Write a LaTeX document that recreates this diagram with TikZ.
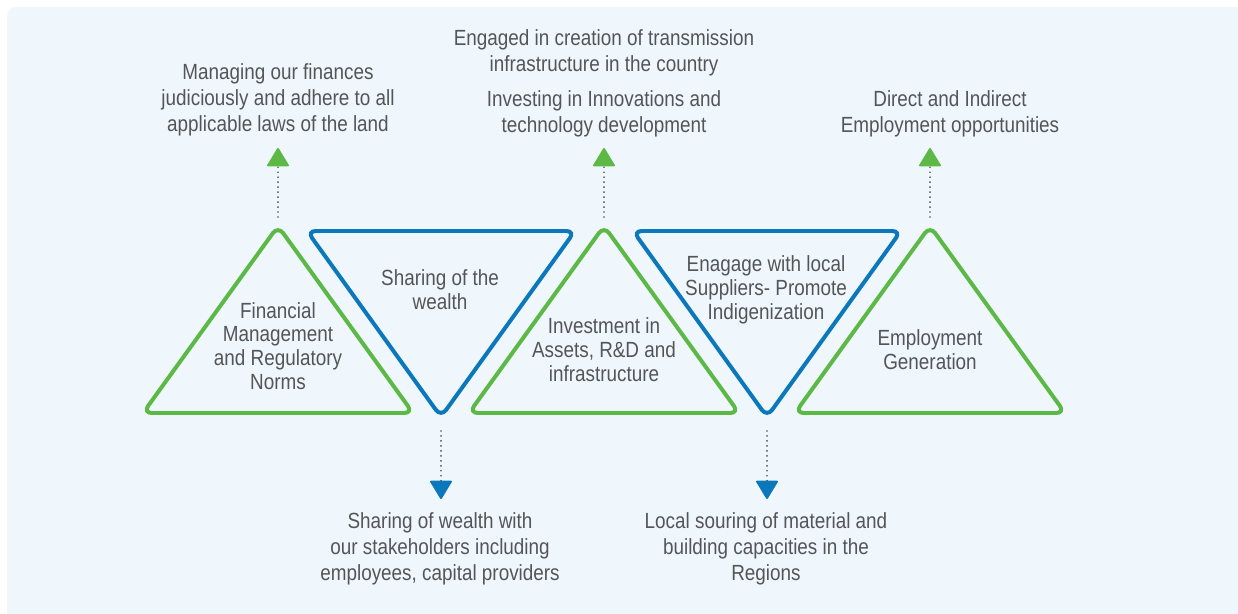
\documentclass[tikz,border=0pt]{standalone}
\usepackage{fontspec}
\setmainfont{Liberation Sans}[FakeStretch=0.86]
\usepackage{tikz}
\usetikzlibrary{calc,positioning,arrows.meta}
\usepackage{xcolor}

\definecolor{bgblue}{HTML}{EFF7FD}
\definecolor{leafgreen}{HTML}{5CB946}
\definecolor{seablue}{HTML}{0A78BA}
\definecolor{txtgray}{HTML}{545557}
\definecolor{dotgray}{HTML}{4F4F4F}

\tikzset{
    upbox/.style={draw=leafgreen, line width=2.27pt, rounded corners=5pt},
    downbox/.style={draw=seablue, line width=2.27pt, rounded corners=5pt},
    intext/.style={align=center, text=txtgray, inner sep=0pt, font=\fontsize{12.5}{13.6}\selectfont},
    outtext/.style={align=center, text=txtgray, inner sep=0pt, font=\fontsize{12.5}{14.74}\selectfont},
    dotline/.style={dotgray, line width=1.1pt, line cap=round, dash pattern=on 0pt off 2.83pt}
}

\begin{document}
\begin{tikzpicture}[x=0.02cm, y=-0.02cm]
        % Canvas
        \useasboundingbox (0,0) rectangle (1238,614);
        \fill[bgblue, rounded corners=5pt] (7,7) rectangle (1250,625);

        % --- Green triangles (pointing up) ---
        \foreach \cx in {278,604,930}
            \draw[upbox] (\cx,413) -- ++(135,0) -- ++(-135,-187) -- ++(-135,187) -- cycle;

        % --- Blue triangles (pointing down) ---
        \foreach \cx in {441,767}
            \draw[downbox] (\cx,231) -- ++(134,0) -- ++(-134,186) -- ++(-134,-186) -- cycle;

        % Labels inside the triangles
        \node[intext] (fin) at (278,346) {Financial\\Management\\and Regulatory\\Norms};
        \node[intext] (share) at (440,290) {Sharing of the\\wealth};
        \node[intext] (inv) at (604,350) {Investment in\\Assets, R\&D and\\infrastructure};
        \node[intext] (local) at (766,290) {Enagage with local\\Suppliers- Promote\\Indigenization};
        \node[intext] (emp) at (930,350) {Employment\\Generation};

        % Outcomes
        \node[outtext] (fin-out) at (278,100) {Managing our finances\\judiciously and adhere to all\\applicable laws of the land};
        \node[outtext] (inv-out1) at (604,53) {Engaged in creation of transmission\\infrastructure in the country};
        \node[outtext] (inv-out2) at (604,114) {Investing in Innovations and\\technology development};
        \node[outtext] (emp-out) at (950,114) {Direct and Indirect\\Employment opportunities};
        \node[outtext] (share-out) at (440,549) {Sharing of wealth with\\our stakeholders including\\employees, capital providers};
        \node[outtext] (local-out) at (766,549) {Local souring of material and\\building capacities in the\\Regions};

        % --- Dotted arrows ---
        \foreach \nm/\cx in {fin/278,inv/604,emp/930}
        {
            \coordinate (\nm-foot) at (\cx,217);
            \coordinate (\nm-head) at (\cx,148);
            \draw[dotline, -{Triangle[length=11pt, width=13pt, color=leafgreen, round]}] (\nm-foot) -- (\nm-head);
        }
        \foreach \nm/\cx in {share/441,local/767}
        {
            \coordinate (\nm-foot) at (\cx,431);
            \coordinate (\nm-head) at (\cx,499);
            \draw[dotline, -{Triangle[length=11pt, width=13pt, color=seablue, round]}] (\nm-foot) -- (\nm-head);
        }
    \end{tikzpicture}
\end{document}
